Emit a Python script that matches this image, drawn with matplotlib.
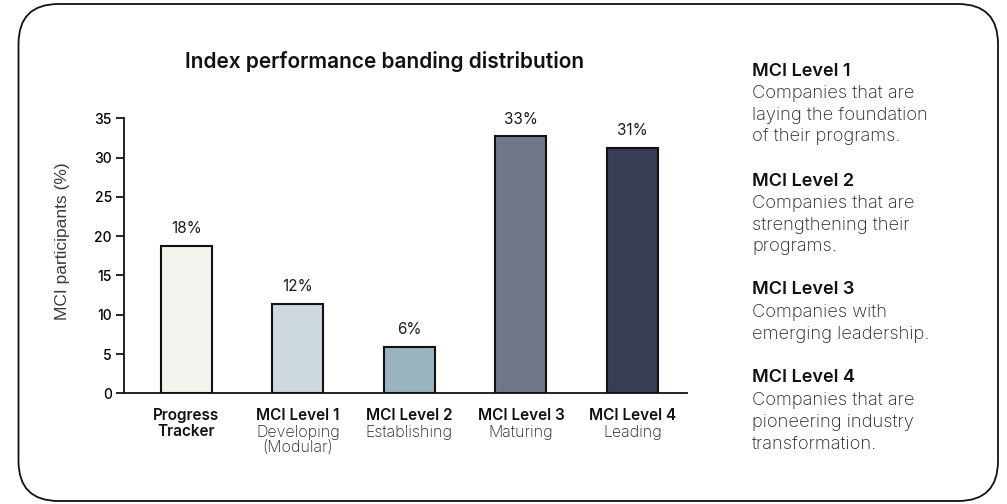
import matplotlib.pyplot as plt
from matplotlib.patches import FancyBboxPatch

plt.rcParams['font.family'] = ['Inter', 'DejaVu Sans']

# data
categories = ["Progress\nTracker", "MCI Level 1", "MCI Level 2", "MCI Level 3", "MCI Level 4"]
subtitles = ["", "Developing\n(Modular)", "Establishing", "Maturing", "Leading"]
values = [18.8, 11.4, 5.9, 32.7, 31.2]
labels = ["18%", "12%", "6%", "33%", "31%"]
colors = ["#f4f4ee", "#cdd9df", "#9ab5c0", "#717788", "#363d55"]

side_heads = ["MCI Level 1", "MCI Level 2", "MCI Level 3", "MCI Level 4"]
side_texts = [
    "Companies that are\nlaying the foundation\nof their programs.",
    "Companies that are\nstrengthening their\nprograms.",
    "Companies with\nemerging leadership.",
    "Companies that are\npioneering industry\ntransformation.",
]

fig = plt.figure(figsize=(10.07, 5.04), dpi=100)

# rounded frame, drawn in pixel coords on a background axes
bg = fig.add_axes([0, 0, 1, 1])
bg.set_xlim(0, 1007)
bg.set_ylim(504, 0)
bg.axis("off")
bg.add_patch(FancyBboxPatch((18.5, 4), 979.5, 497, boxstyle="round,pad=0,rounding_size=40",
                            fill=False, edgecolor="#111111", linewidth=1.3))

ax = fig.add_axes([0.1234, 0.2196, 0.5585, 0.5457])
x = range(len(values))
ax.bar(x, values, width=0.457, color=colors, edgecolor="#111111", linewidth=1.5)
for i, v in enumerate(values):
    ax.annotate(labels[i], xy=(i, v), xytext=(0, 7), textcoords="offset points",
                ha="center", va="bottom", fontsize=11, color="#1a1a1a")

ax.set_xlim(-0.555, 4.485)
ax.set_ylim(0, 35)
ax.set_yticks(range(0, 36, 5))
ax.tick_params(axis="y", labelsize=10, length=6, width=1.2, pad=3)
ax.set_xticks([])
for s in ["top", "right"]:
    ax.spines[s].set_visible(False)
for s in ["left", "bottom"]:
    ax.spines[s].set_linewidth(1.3)
    ax.spines[s].set_color("#111111")
for lab in ax.get_yticklabels():
    lab.set_fontweight("medium")

ax.set_ylabel("MCI participants (%)", fontsize=12.5, color="#3a3a3a",
              family=["Liberation Sans", "DejaVu Sans"])
ax.yaxis.set_label_coords(-0.097, 0.554)

# category labels under the axis
for i, (c, s) in enumerate(zip(categories, subtitles)):
    ax.annotate(c, xy=(i, 0), xycoords="data", xytext=(0, -10.5), textcoords="offset points",
                ha="center", va="top", fontsize=11, fontweight="semibold", color="#111111",
                linespacing=1.05)
    if s:
        ax.annotate(s, xy=(i, 0), xycoords="data", xytext=(0, -22.5), textcoords="offset points",
                    ha="center", va="top", fontsize=11.5, color="#222222", fontweight="light",
                    linespacing=1.05)

fig.text(0.3815, 0.878, "Index performance banding distribution", ha="center", va="center",
         fontsize=15, fontweight="semibold", color="#111111")

# side notes
head_y = [71, 181, 290, 378]
for hy, h, t in zip(head_y, side_heads, side_texts):
    fig.text(752 / 1007, 1 - hy / 504, h, ha="left", va="center", fontsize=13,
             fontweight="semibold", color="#111111")
    fig.text(752 / 1007, 1 - (hy + 14) / 504, t, ha="left", va="top", fontsize=13.2,
             color="#222222", fontweight="light", linespacing=1.36)

fig.savefig("out.png", dpi=100)
